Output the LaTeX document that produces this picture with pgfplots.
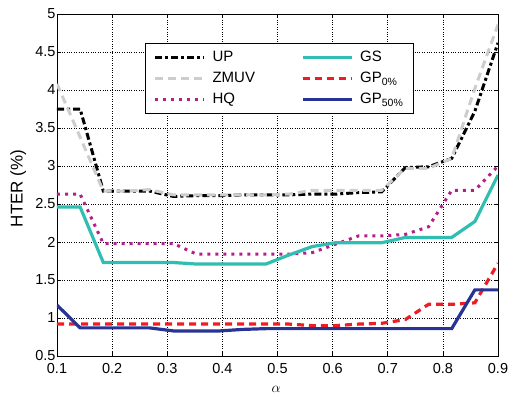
\documentclass[border=0pt]{standalone}
\usepackage{fontspec}
\setmainfont{Liberation Sans}
\usepackage{pgfplots}
\pgfplotsset{compat=1.18}
\definecolor{cgs}{RGB}{48,190,178}
\definecolor{cnavy}{RGB}{40,52,148}
\definecolor{cred}{RGB}{238,28,36}
\definecolor{cmag}{RGB}{178,30,140}
\definecolor{cgray}{RGB}{205,205,205}
\begin{document}
\begin{tikzpicture}
\begin{axis}[
  name=ax,
  scale only axis, width=441pt, height=342pt,
  xmin=0.1, xmax=0.9, ymin=0.5, ymax=5,
  xtick={0.1,0.2,...,0.9}, ytick={0.5,1,...,5},
  xticklabels={0.1,0.2,0.3,0.4,0.5,0.6,0.7,0.8,0.9},
  yticklabels={0.5,1,1.5,2,2.5,3,3.5,4,4.5,5},
  tick align=inside, major tick length=4pt,
  grid=major, grid style={black, dotted, line width=0.6pt},
  axis line style={line width=0.8pt},
  tick style={black, line width=0.6pt},
  ticklabel style={font=\fontsize{14.5}{16}\selectfont},
  xticklabel style={yshift=-4pt},
  yticklabel style={xshift=2pt},
  xlabel={$\alpha$}, ylabel={HTER (\%)},
  xlabel style={font=\fontsize{15}{16}\selectfont, at={(axis description cs:0.497,-0.097)}, anchor=center},
  ylabel style={font=\fontsize{17}{19}\selectfont, at={(axis description cs:-0.088,0.49)}, anchor=center},
  legend columns=3, transpose legend,
  legend style={at={(rel axis cs:0.2,0.915)}, anchor=north west,
    font=\fontsize{15}{18}\selectfont, draw=black, line width=0.8pt,
    inner xsep=8pt, inner ysep=6pt, row sep=5pt,
    /tikz/every odd column/.append style={column sep=5pt},
    /tikz/every even column/.append style={column sep=44pt}},
  legend cell align=left,
  legend image code/.code={\draw[#1] (0cm,0cm) -- (1.72cm,0cm);},
]
\addplot[black, line width=3pt, dash pattern=on 7pt off 3pt on 3pt off 3pt] coordinates {
(0.1,3.75)(0.142,3.75)(0.184,2.67)(0.226,2.67)(0.268,2.67)(0.311,2.60)(0.353,2.61)(0.395,2.61)(0.437,2.62)(0.479,2.62)(0.521,2.62)(0.563,2.63)(0.605,2.63)(0.647,2.65)(0.689,2.66)(0.732,2.98)(0.774,2.99)(0.816,3.10)(0.858,3.72)(0.9,4.62)};
\addlegendentry{UP}
\addplot[cgray, line width=3pt, dash pattern=on 8pt off 5pt] coordinates {
(0.1,4.08)(0.142,3.38)(0.184,2.67)(0.226,2.67)(0.268,2.69)(0.311,2.62)(0.353,2.62)(0.395,2.62)(0.437,2.62)(0.479,2.62)(0.521,2.63)(0.563,2.68)(0.605,2.68)(0.647,2.68)(0.689,2.68)(0.732,2.97)(0.774,2.97)(0.816,3.10)(0.858,4.02)(0.9,4.86)};
\addlegendentry{ZMUV}
\addplot[cmag, line width=3pt, dash pattern=on 3pt off 5pt] coordinates {
(0.1,2.63)(0.142,2.63)(0.184,1.98)(0.226,1.98)(0.268,1.98)(0.311,1.98)(0.353,1.84)(0.395,1.84)(0.437,1.84)(0.479,1.84)(0.521,1.84)(0.563,1.86)(0.605,1.97)(0.647,2.08)(0.689,2.08)(0.732,2.10)(0.774,2.20)(0.816,2.68)(0.858,2.68)(0.9,3.00)};
\addlegendentry{HQ}
\addplot[cgs, line width=3.2pt] coordinates {
(0.1,2.46)(0.142,2.46)(0.184,1.73)(0.226,1.73)(0.268,1.73)(0.311,1.73)(0.353,1.71)(0.395,1.71)(0.437,1.71)(0.479,1.71)(0.521,1.83)(0.563,1.94)(0.605,1.99)(0.647,1.99)(0.689,1.99)(0.732,2.06)(0.774,2.06)(0.816,2.06)(0.858,2.27)(0.9,2.88)};
\addlegendentry{GS}
\addplot[cred, line width=3.2pt, dash pattern=on 7pt off 5pt] coordinates {
(0.1,0.92)(0.142,0.92)(0.184,0.92)(0.226,0.92)(0.268,0.92)(0.311,0.92)(0.353,0.92)(0.395,0.92)(0.437,0.92)(0.479,0.92)(0.521,0.92)(0.563,0.90)(0.605,0.90)(0.647,0.92)(0.689,0.93)(0.732,0.98)(0.774,1.18)(0.816,1.18)(0.858,1.20)(0.9,1.72)};
\addlegendentry{GP\textsubscript{0\%}}
\addplot[cnavy, line width=3.2pt] coordinates {
(0.1,1.17)(0.142,0.87)(0.184,0.87)(0.226,0.87)(0.268,0.87)(0.311,0.83)(0.353,0.83)(0.395,0.83)(0.437,0.85)(0.479,0.86)(0.521,0.86)(0.563,0.86)(0.605,0.86)(0.647,0.86)(0.689,0.86)(0.732,0.86)(0.774,0.86)(0.816,0.86)(0.858,1.37)(0.9,1.37)};
\addlegendentry{GP\textsubscript{50\%}}
\end{axis}
\pgfresetboundingbox
\path[use as bounding box] ([shift={(-57pt,-43pt)}]ax.south west) rectangle ([shift={(11pt,14pt)}]ax.north east);
\end{tikzpicture}
\end{document}
